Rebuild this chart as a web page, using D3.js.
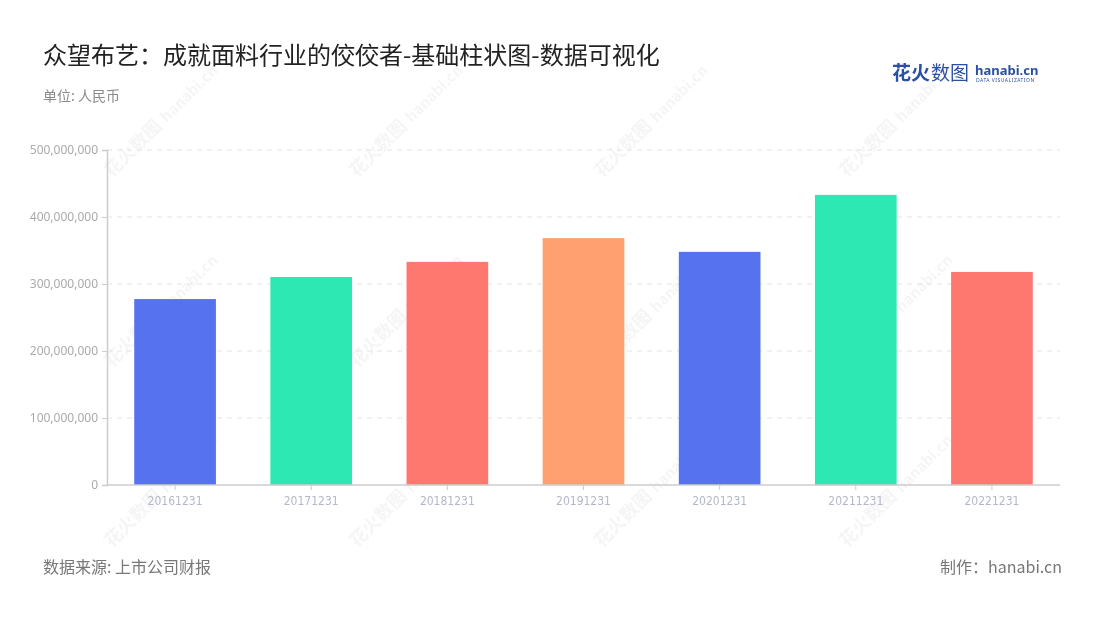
<!DOCTYPE html>
<html><head><meta charset="utf-8">
<script src="https://cdn.jsdelivr.net/npm/d3@7"></script>
<style>body{margin:0;background:#fff;}svg{display:block;font-family:"Noto Sans CJK SC","Noto Sans",sans-serif;}</style>
</head><body><svg id="c" width="1100" height="620"></svg>
<script>
const categories = ["20161231","20171231","20181231","20191231","20201231","20211231","20221231"];
const values = [277500000, 310500000, 333000000, 368500000, 348000000, 433000000, 318000000];
const barColors = ["#5672ee","#2ee8b4","#ff7870","#ffa070","#5672ee","#2ee8b4","#ff7870"];
const yTicks = [0,100000000,200000000,300000000,400000000,500000000];

const svg = d3.select("#c");
const m = {left:107, right:1060, top:150, bottom:485};

// watermarks
const wm = svg.append("g").attr("opacity",0.045);
[140,385,630,875].forEach(cx=>{
  [150,340,520].forEach(cy=>{
    const g = wm.append("g").attr("transform",`translate(${cx},${cy}) rotate(-45)`);
    g.append("text").attr("x",-40).attr("y",0).attr("font-size",18).attr("font-weight","bold").attr("fill","#222").text("花火数图");
    g.append("text").attr("x",38).attr("y",0).attr("font-size",15).attr("font-weight","bold").attr("fill","#222").text("hanabi.cn");
  });
});

const x = d3.scaleBand().domain(categories).range([m.left, m.right]).paddingInner(0.4).paddingOuter(0.2);
const y = d3.scaleLinear().domain([0,500000000]).range([m.bottom, m.top]);

// grid
svg.append("g").selectAll("line").data(yTicks.slice(1)).join("line")
  .attr("x1",m.left).attr("x2",m.right).attr("y1",d=>y(d)).attr("y2",d=>y(d))
  .attr("stroke","#e3e3e3").attr("stroke-width",1).attr("stroke-dasharray","5,5");

// bars
svg.append("g").selectAll("rect").data(values).join("rect")
  .attr("x",(d,i)=>x(categories[i])).attr("width",x.bandwidth())
  .attr("y",d=>y(d)).attr("height",d=>m.bottom-y(d))
  .attr("fill",(d,i)=>barColors[i]);

// y axis
const ya = svg.append("g").attr("transform",`translate(${m.left},0)`)
  .call(d3.axisLeft(y).tickValues(yTicks).tickSize(5).tickPadding(4).tickFormat(d3.format(",")));
ya.select(".domain").attr("stroke","#ccc").attr("stroke-width",1.5);
ya.selectAll(".tick line").attr("stroke","#ccc");
ya.selectAll("text").attr("fill","#aaa").attr("font-size",12).attr("font-family","Noto Sans, sans-serif");

// x axis
const xa = svg.append("g").attr("transform",`translate(0,${m.bottom})`)
  .call(d3.axisBottom(x).tickSize(5).tickPadding(6).tickSizeOuter(0));
xa.select(".domain").attr("stroke","#ccc").attr("stroke-width",1.5).attr("d",`M${m.left},0H${m.right}`);
xa.selectAll(".tick line").attr("stroke","#ccc");
xa.selectAll("text").attr("fill","#b3b8c8").attr("font-size",12).attr("font-family","DejaVu Sans Condensed, sans-serif");

// title
svg.append("text").attr("x",43).attr("y",64).attr("font-size",24).attr("fill","#222").text("众望布艺：成就面料行业的佼佼者-基础柱状图-数据可视化");
svg.append("text").attr("x",43).attr("y",101).attr("font-size",14).attr("fill","#8a8a8a").text("单位: 人民币");

// footer
svg.append("text").attr("x",43).attr("y",573).attr("font-size",16).attr("fill","#777").text("数据来源: 上市公司财报");
svg.append("text").attr("x",1062).attr("y",573).attr("text-anchor","end").attr("font-size",16).attr("fill","#777").text("制作：hanabi.cn");

// logo
svg.append("text").attr("x",892).attr("y",80).attr("font-size",19).attr("font-weight","bold").attr("fill","#2b4fa3").text("花火");
svg.append("text").attr("x",931).attr("y",80).attr("font-size",19).attr("fill","#2b4fa3").text("数图");
svg.append("text").attr("x",975).attr("y",75).attr("font-size",13).attr("font-weight","bold").attr("fill","#2b4fa3").attr("font-family","Noto Sans, sans-serif").text("hanabi.cn");
svg.append("text").attr("x",976).attr("y",82).attr("font-size",5).attr("fill","#2b4fa3").attr("letter-spacing",0.5).attr("font-family","Noto Sans, sans-serif").text("DATA VISUALIZATION");
</script></body></html>
